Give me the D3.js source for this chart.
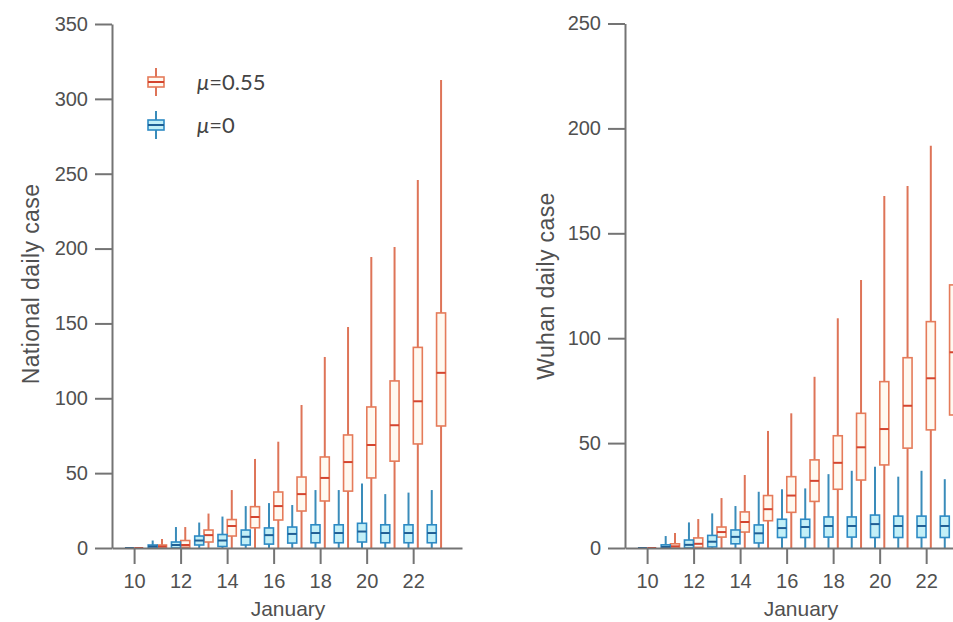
<!DOCTYPE html>
<html>
<head>
<meta charset="utf-8">
<script src="https://cdn.jsdelivr.net/npm/d3@7/dist/d3.min.js"></script>
<style>
  html, body { margin: 0; padding: 0; background: #fff; }
  svg { display: block; }
  .axis .domain, .axis .tick line { stroke: #747474; stroke-width: 2; }
  .axis text { fill: #505050; font-family: "Liberation Sans", Arial, sans-serif; font-size: 20px; }
  .title { fill: #505050; font-family: "Liberation Sans", Arial, sans-serif; font-size: 21px; }
  .ytitle { fill: #505050; font-family: "Liberation Sans", Arial, sans-serif; font-size: 23px; letter-spacing: 0.4px; }
  .legend text { fill: #444; font-family: Lato, "Open Sans", sans-serif; font-size: 22px; }
</style>
</head>
<body>
<svg id="chart" width="953" height="622"></svg>
<script>
// Days of January
const dates = [10, 11, 12, 13, 14, 15, 16, 17, 18, 19, 20, 21, 22, 23];
const xTicks = [10, 12, 14, 16, 18, 20, 22];
const nationalTicks = [0, 50, 100, 150, 200, 250, 300, 350];
const wuhanTicks = [0, 50, 100, 150, 200, 250];
const seriesNames = ["\u03bc=0.55", "\u03bc=0"];

// National daily cases, mu = 0.55: [min, q1, median, q3, max] per day
const nationalHigh = [
  [0, 0, 0, 0, 0.5],
  [0, 0, 1, 2, 6],
  [0, 0.5, 2, 5, 14],
  [0, 4, 8.6, 12, 23],
  [0, 8, 14.7, 19, 38.7],
  [0, 13.5, 20.7, 27.6, 59.5],
  [0, 18.7, 28, 37.4, 71],
  [0, 24.7, 36, 47.4, 95.5],
  [0, 31.4, 46.8, 60.8, 127.6],
  [0, 38, 57.4, 75.5, 147.6],
  [0, 46.8, 68.8, 94.2, 194.4],
  [0, 58, 82, 111.6, 201],
  [0, 69.5, 98, 134, 245.8],
  [0, 81.5, 117, 157, 312.6]
];
// National daily cases, mu = 0
const nationalZero = [
  [0, 0, 0, 0, 0.5],
  [0, 0, 1, 2, 5],
  [0, 0, 2, 4, 14],
  [0, 2, 5, 8, 17],
  [0, 1, 5, 9, 21],
  [0, 2, 7.5, 12, 28],
  [0, 2.6, 8.6, 13.4, 30],
  [0, 3.3, 9.4, 14, 28.7],
  [0, 3.5, 10, 15.5, 38.7],
  [0, 3.5, 10, 15.5, 38.7],
  [0, 4, 11, 16.5, 43],
  [0, 3.5, 10, 15.5, 36],
  [0, 3.5, 10, 15.5, 37],
  [0, 3.5, 10, 15.5, 38.7]
];
// Wuhan daily cases, mu = 0.55
const wuhanHigh = [
  [0, 0, 0, 0, 0.4],
  [0, 0, 0.8, 2, 7.2],
  [0, 0.3, 2, 4.8, 13.8],
  [0, 5.2, 7.6, 10, 23.8],
  [0, 7.6, 12.4, 17.2, 34.8],
  [0, 13, 18.5, 25, 55.8],
  [0, 17, 25, 34, 64.2],
  [0, 22.2, 32, 42, 81.6],
  [0, 28, 40.6, 53.5, 109.5],
  [0, 32.4, 48, 64.2, 127.7],
  [0, 39.6, 56.7, 79.3, 167.8],
  [0, 47.6, 67.8, 90.7, 172.6],
  [0, 56.3, 80.9, 107.9, 191.7],
  [0, 63.4, 93.3, 125.4, 243.8]
];
// Wuhan daily cases, mu = 0
const wuhanZero = [
  [0, 0, 0, 0, 0.4],
  [0, 0, 0.5, 1.5, 5.7],
  [0, 0, 1.5, 3.8, 12.2],
  [0, 0.5, 3, 6, 16.5],
  [0, 2, 5.3, 8.6, 20],
  [0, 2.4, 7, 11, 26.8],
  [0, 5, 9.5, 13.7, 28],
  [0, 5, 10, 13.7, 28.4],
  [0, 5.2, 10.5, 14.8, 35.2],
  [0, 5.2, 10.5, 14.8, 36.8],
  [0, 5, 11.4, 15.7, 38.7],
  [0, 5, 10.5, 15.2, 34],
  [0, 5, 10.5, 15.2, 36.8],
  [0, 5, 10.5, 15.2, 32.8]
];

const orange = { stroke: "#e57b5a", whisker: "#de7458", fill: "#fff9f0", median: "#d4452f" };
const blue = { stroke: "#2d8ac4", whisker: "#3a8cba", fill: "#c2eff7", median: "#1f5f95" };

const svg = d3.select("#chart");

function drawPanel(cfg) {
  const x = d3.scaleLinear().domain([9.05, 24.1]).range([cfg.left, cfg.left + 350]);
  const y = d3.scaleLinear().domain([0, cfg.yMax]).range([548, cfg.top]);
  const g = svg.append("g");

  const boxW = 9;
  const shift = 0.2;

  function drawSeries(data, col, offset) {
    const s = g.append("g");
    const rows = dates.map((d, i) => ({ d, v: data[i] }));
    s.selectAll("line.whisker").data(rows).join("line")
      .attr("class", "whisker")
      .attr("x1", r => x(r.d + offset)).attr("x2", r => x(r.d + offset))
      .attr("y1", r => y(r.v[0])).attr("y2", r => y(r.v[4]))
      .attr("stroke", col.whisker).attr("stroke-width", 2);
    s.selectAll("rect").data(rows).join("rect")
      .attr("x", r => x(r.d + offset) - boxW / 2)
      .attr("width", boxW)
      .attr("y", r => y(r.v[3]))
      .attr("height", r => Math.max(0, y(r.v[1]) - y(r.v[3])))
      .attr("fill", col.fill).attr("stroke", col.stroke).attr("stroke-width", 1.6);
    s.selectAll("line.median").data(rows).join("line")
      .attr("class", "median")
      .attr("x1", r => x(r.d + offset) - boxW / 2).attr("x2", r => x(r.d + offset) + boxW / 2)
      .attr("y1", r => y(r.v[2])).attr("y2", r => y(r.v[2]))
      .attr("stroke", col.median).attr("stroke-width", 2);
  }

  drawSeries(cfg.high, orange, shift);
  drawSeries(cfg.zero, blue, -shift);

  g.append("g").attr("class", "axis")
    .attr("transform", `translate(${cfg.left},0)`)
    .call(d3.axisLeft(y).tickValues(cfg.ticks).tickSize(17).tickPadding(7).tickSizeOuter(0));

  g.append("g").attr("class", "axis")
    .attr("transform", "translate(0,548)")
    .call(d3.axisBottom(x).tickValues(xTicks).tickSize(16).tickPadding(10).tickSizeOuter(0));

  g.append("text").attr("class", "title")
    .attr("x", cfg.left + 176).attr("y", 616)
    .attr("text-anchor", "middle")
    .text("January");

  g.append("text").attr("class", "ytitle")
    .attr("transform", `translate(${cfg.labelX},${cfg.labelY}) rotate(-90)`)
    .attr("text-anchor", "middle")
    .text(cfg.label);
}

drawPanel({ left: 112, top: 24, yMax: 350, ticks: nationalTicks, high: nationalHigh, zero: nationalZero,
  label: "National daily case", labelX: 39, labelY: 284 });
drawPanel({ left: 625, top: 23.5, yMax: 250, ticks: wuhanTicks, high: wuhanHigh, zero: wuhanZero,
  label: "Wuhan daily case", labelX: 554, labelY: 286 });

// Legend
const legend = svg.append("g").attr("class", "legend");
const legendItems = [
  { name: seriesNames[0], col: orange, cy: 82 },
  { name: seriesNames[1], col: blue, cy: 125 }
];
legendItems.forEach(it => {
  const cx = 156;
  legend.append("line").attr("x1", cx).attr("x2", cx).attr("y1", it.cy - 14).attr("y2", it.cy + 14)
    .attr("stroke", it.col.whisker).attr("stroke-width", 2);
  legend.append("rect").attr("x", cx - 8).attr("y", it.cy - 5).attr("width", 16).attr("height", 10)
    .attr("fill", it.col.fill).attr("stroke", it.col.stroke).attr("stroke-width", 1.6);
  legend.append("line").attr("x1", cx - 8).attr("x2", cx + 8).attr("y1", it.cy).attr("y2", it.cy)
    .attr("stroke", it.col.median).attr("stroke-width", 2);
  const t = legend.append("text").attr("x", 197).attr("y", it.cy).attr("dy", "0.35em");
  t.append("tspan").attr("font-style", "italic").text(it.name.slice(0, 1));
  t.append("tspan").text(it.name.slice(1));
});
</script>
</body>
</html>
